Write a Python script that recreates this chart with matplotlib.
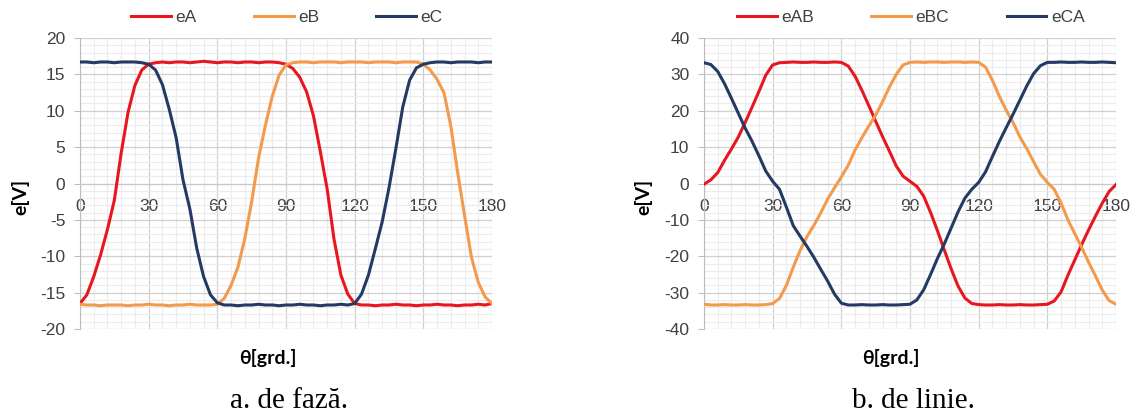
import numpy as np
import matplotlib
matplotlib.use("Agg")
import matplotlib.pyplot as plt
from matplotlib.ticker import MultipleLocator

# rotor angle, sampled every 3 grd
theta = np.arange(0, 181, 3)

# phase EMFs [V]
eA = [-16.5, -15.3, -12.8, -9.8, -6.3, -2.3, 4.2, 9.8, 13.5, 15.6, 16.4, 16.6,
      16.7, 16.6, 16.7, 16.7, 16.6, 16.7, 16.8, 16.7, 16.6, 16.7, 16.7, 16.6,
      16.7, 16.7, 16.6, 16.7, 16.7, 16.6,
      16.4, 15.8, 14.6, 12.6, 9.3, 4.4, -0.8, -7.7, -12.6, -15.2, -16.5,
      -16.7, -16.7, -16.8, -16.7, -16.7, -16.6, -16.7, -16.7, -16.8, -16.7,
      -16.7, -16.6, -16.7, -16.7, -16.8, -16.7, -16.7, -16.6, -16.7,
      -16.5]
eB = [-16.6, -16.7, -16.7, -16.8, -16.7, -16.7, -16.7, -16.8, -16.7, -16.7,
      -16.6, -16.7, -16.7, -16.8, -16.7, -16.7, -16.6, -16.7, -16.7, -16.7,
      -16.6, -15.8, -14.0, -11.5, -7.6, -2.5, 3.5, 8.0, 12.0, 14.9, 16.3, 16.6,
      16.7, 16.7, 16.6, 16.7, 16.7, 16.7, 16.6, 16.7, 16.7, 16.7, 16.6, 16.7,
      16.7, 16.7, 16.6, 16.7, 16.7, 16.7,
      16.4, 15.6, 14.3, 12.5, 7.9, 1.5, -4.4, -10.1, -13.6, -15.6, -16.5]
eC = [16.7, 16.7, 16.6, 16.7, 16.7, 16.6, 16.7, 16.7, 16.7, 16.6,
      16.4, 15.6, 13.6, 10.2, 6.3, 0.5, -3.5, -8.9, -12.8, -15.3, -16.4, -16.7,
      -16.7, -16.8, -16.7, -16.7, -16.6, -16.7, -16.7, -16.8, -16.7, -16.7,
      -16.6, -16.7, -16.7, -16.8, -16.7, -16.7, -16.6, -16.7,
      -16.5, -15.2, -12.6, -9.0, -5.3, -0.6, 4.8, 10.5, 14.2, 15.9, 16.4, 16.6,
      16.7, 16.7, 16.6, 16.7, 16.7, 16.7, 16.6, 16.7, 16.7]

# line EMFs [V]
eAB = [-0.2, 1.0, 3.0, 6.4, 9.5, 12.8, 16.8, 21.0, 25.3, 29.8, 32.6, 33.2,
       33.3, 33.4, 33.3, 33.3, 33.4, 33.3, 33.3, 33.4, 33.3,
       32.3, 29.5, 25.6, 21.4, 17.1, 12.9, 8.9, 4.8, 2.0, 0.6, -0.8, -3.5,
       -8.0, -13.0, -18.3, -23.5, -28.2, -31.5, -33.0, -33.3,
       -33.4, -33.4, -33.3, -33.4, -33.4, -33.3, -33.4, -33.4, -33.3,
       -33.2, -32.3, -29.8, -25.2, -21.0, -16.8, -12.8, -9.0, -5.4, -2.2, -0.3]
eBC = [-33.2, -33.4, -33.4, -33.3, -33.4, -33.4, -33.3, -33.4, -33.4, -33.3,
       -33.0, -31.6, -28.0, -23.0, -18.4, -14.6, -11.5, -8.1, -4.3, -1.2, 1.8,
       5.0, 9.2, 12.6, 15.8, 18.8, 22.5, 26.5, 30.0, 32.6, 33.3,
       33.4, 33.3, 33.4, 33.4, 33.3, 33.4, 33.4, 33.3, 33.4,
       33.3, 32.0, 28.4, 24.0, 20.2, 16.8, 12.8, 9.6, 6.0, 2.5, 0.3, -1.6,
       -5.4, -10.0, -13.8, -17.6, -21.6, -25.4, -29.3, -32.2, -33.2]
eCA = [33.2, 32.7, 30.8, 27.4, 23.4, 19.3, 15.2, 11.6, 7.6, 3.4, 0.6, -1.6,
       -6.5, -11.6, -14.5, -17.3, -20.3, -23.6, -26.8, -30.4, -32.9, -33.4,
       -33.4, -33.3, -33.4, -33.4, -33.3, -33.4, -33.4, -33.3,
       -33.2, -32.0, -29.2, -25.0, -20.6, -16.6, -12.2, -7.8, -4.0, -1.6, 0.3,
       3.2, 7.4, 11.5, 15.3, 19.0, 22.9, 26.8, 30.2, 32.4, 33.3,
       33.3, 33.4, 33.3, 33.3, 33.4, 33.3, 33.3, 33.4, 33.3, 33.2]

COLORS = ["#E8161F", "#F39A4C", "#253A62"]
GRID_MAJOR = "#d0d0d0"
GRID_MINOR = "#ececec"
TXT = "#404040"

plt.rcParams["font.family"] = ["Liberation Sans", "DejaVu Sans"]
plt.rcParams["axes.unicode_minus"] = False

fig = plt.figure(figsize=(11.32, 4.16), dpi=100)
W, H = 1132, 416


def panel(x0, series, names, lim, major, minor):
    ax = fig.add_axes([x0 / W, 1 - 329 / H, 412 / W, 291 / H])
    for y, name, c in zip(series, names, COLORS):
        ax.plot(theta, y, color=c, lw=2.2, label=name, zorder=3,
                solid_joinstyle="round")
    ax.set_xlim(0, 180)
    ax.set_ylim(-lim, lim)
    ax.xaxis.set_major_locator(MultipleLocator(30))
    ax.xaxis.set_minor_locator(MultipleLocator(6))
    ax.yaxis.set_major_locator(MultipleLocator(major))
    ax.yaxis.set_minor_locator(MultipleLocator(minor))
    ax.grid(which="major", color=GRID_MAJOR, lw=0.9)
    ax.grid(which="minor", color=GRID_MINOR, lw=0.8)
    ax.set_axisbelow(True)
    for s in ("top", "right"):
        ax.spines[s].set_visible(False)
    ax.spines["bottom"].set_position(("data", 0))
    ax.spines["bottom"].set_color("#c8c8c8")
    ax.spines["left"].set_color("#bdbdbd")
    ax.tick_params(axis="x", which="both", length=0, pad=11,
                   labelsize=12.5, labelcolor=TXT)
    ax.tick_params(axis="y", which="major", length=4.5, color="#bdbdbd",
                   pad=6, labelsize=12.5, labelcolor=TXT)
    ax.tick_params(axis="y", which="minor", length=0)
    ax.legend(loc="center", bbox_to_anchor=(0.502, 1.072), ncol=3,
              frameon=False, fontsize=12.5, handlelength=2.3,
              handletextpad=0.25, columnspacing=3.3, labelcolor=TXT)
    return ax


panel(80, [eA, eB, eC], ["eA", "eB", "eC"], 20, 5, 1)
panel(704, [eAB, eBC, eCA], ["eAB", "eBC", "eCA"], 40, 10, 2)

lab = dict(family=["Lato", "DejaVu Sans"], weight="bold", color="black")
for yx, xx, cx, cap in [(20, 268, 289, "a. de fază."),
                        (643, 891, 913, "b. de linie.")]:
    fig.text(yx / W, 1 - 197 / H, "e[V]", rotation=90, ha="center",
             va="center", fontsize=14, **lab)
    fig.text(xx / W, 1 - 358 / H, "θ[grd.]", ha="center", va="center",
             fontsize=14, **lab)
    fig.text(cx / W, 1 - 401 / H, cap, ha="center", va="center",
             fontsize=21, family="Liberation Serif", color="black")

fig.savefig("out.png", dpi=100)
